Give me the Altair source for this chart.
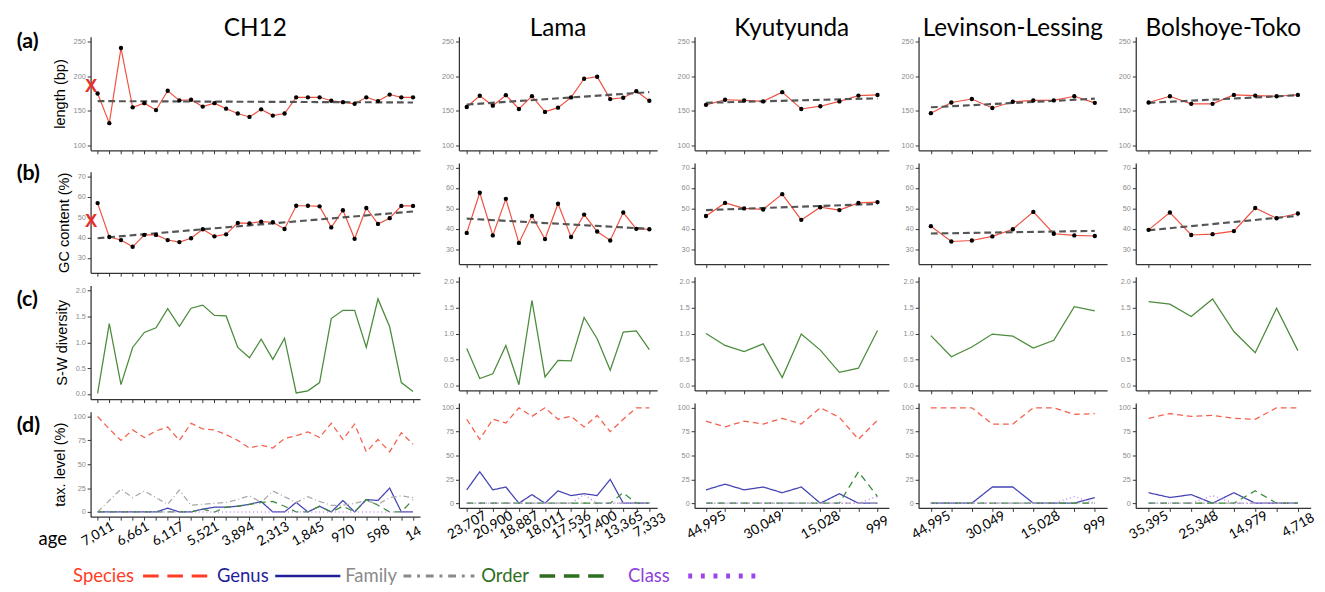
import altair as alt
import pandas as pd

# ---------------- data ----------------
sites = ["CH12", "Lama", "Kyutyunda", "Levinson-Lessing", "Bolshoye-Toko"]

ch12_ages = ["7,011", "6,661", "6,117", "5,521", "3,894", "2,313", "1,845", "970", "598", "14"]
lama_ages = ["23,707", "20,900", "18,887", "18,011", "17,536", "17,400", "13,365", "7,333"]
kyu_ages = ["44,995", "30,049", "15,028", "999"]
lev_ages = ["44,995", "30,049", "15,028", "999"]
bol_ages = ["35,395", "25,348", "14,979", "4,718"]

ch12_len = [175, 132, 241, 155, 161, 151, 179, 165, 166, 156, 161, 153, 146, 141, 152, 143, 146,
            169.5, 169.5, 169.5, 164.5, 162.5, 160, 169.5, 164, 173.5, 169.5, 169.5]
lama_len = [155.4, 171.7, 157.4, 172.6, 152.6, 171.2, 148.3, 154.5, 169.3, 196.5, 199.4, 166.9, 168.8, 178.4, 164.5]
kyu_len = [158.6, 166, 165, 163.6, 177, 152.6, 156.6, 163.6, 172, 173]
lev_len = [146.5, 162, 167, 154, 163, 165, 165, 171, 161.5]
bol_len = [162, 171, 160, 160, 173, 172, 171, 173]

ch12_gc = [56.9, 40.3, 38.8, 35.5, 41.3, 41.3, 38.8, 37.8, 39.7, 44.1, 40.6, 41.6, 47.2, 47.0, 47.8, 47.5,
           44.2, 55.6, 55.6, 55.3, 45.0, 53.4, 39.4, 54.5, 46.7, 49.5, 55.5, 55.5]
lama_gc = [38.0, 57.7, 36.8, 54.7, 33.1, 46.3, 35.0, 52.3, 36.0, 47.0, 38.7, 34.3, 48.0, 40.0, 39.8]
kyu_gc = [46.3, 52.7, 50.0, 49.5, 57.0, 44.4, 50.6, 49.2, 52.7, 53.1]
lev_gc = [41.3, 33.8, 34.3, 36.3, 39.8, 48.3, 37.6, 36.8, 36.5]
bol_gc = [39.5, 48.0, 37.0, 37.4, 38.9, 50.2, 45.2, 47.5]

# dashed trend lines: value at first and last sample
ch12_len_trend = [164, 162]
lama_len_trend = [159, 177]
kyu_len_trend = [161.6, 168]
lev_len_trend = [155, 167.5]
bol_len_trend = [161.5, 172.5]
ch12_gc_trend = [39.7, 52.8]
lama_gc_trend = [45, 40]
kyu_gc_trend = [49.2, 52.2]
lev_gc_trend = [37.7, 39]
bol_gc_trend = [39.3, 46.4]

# red X reference markers (CH12)
ch12_marker_len = 186
ch12_marker_gc = 48
marker_x = -0.55

ch12_sw = [0.01, 1.36, 0.18, 0.90, 1.19, 1.28, 1.65, 1.31, 1.66, 1.72, 1.52, 1.51, 0.90, 0.70, 1.06, 0.67,
           1.08, 0.02, 0.06, 0.22, 1.46, 1.62, 1.62, 0.90, 1.84, 1.30, 0.22, 0.05]
lama_sw = [0.71, 0.13, 0.22, 0.77, 0.01, 1.64, 0.16, 0.48, 0.47, 1.31, 0.90, 0.29, 1.03, 1.05, 0.69]
kyu_sw = [1.0, 0.77, 0.65, 0.80, 0.15, 0.99, 0.68, 0.25, 0.33, 1.06]
lev_sw = [0.96, 0.55, 0.74, 0.99, 0.95, 0.72, 0.87, 1.52, 1.44]
bol_sw = [1.62, 1.57, 1.33, 1.67, 1.04, 0.63, 1.49, 0.67]

ch12_species = [100, 87, 75, 86, 78, 85, 89, 75, 93, 87, 86, 81, 75, 67, 70, 67, 77, 80, 84, 78, 93, 76, 92, 63, 76, 63, 83, 71]
ch12_genus = [0, 0, 0, 0, 0, 0, 4, 0, 0, 3, 5, 5, 6, 8, 11, 0, 0, 10, 0, 6, 0, 12, 0, 13, 12, 25, 0, 0]
ch12_family = [0, 12, 24, 15, 22, 15, 8, 23, 7, 8, 9, 10, 13, 17, 10, 22, 16, 10, 16, 11, 7, 7, 9, 12, 8, 15, 17, 15]
ch12_order = [0, 0, 0, 0, 0, 0, 0, 0, 0, 3, 0, 5, 6, 8, 10, 11, 6, 0, 0, 6, 0, 6, 0, 13, 7, 0, 0, 13]
ch12_class = [0] * 28

lama_species = [88, 67, 88, 84, 100, 91, 100, 88, 91, 80, 92, 75, 88, 100, 100]
lama_genus = [14, 33, 14, 17, 0, 9, 0, 13, 8, 10, 8, 25, 0, 0, 0]
lama_family = [0] * 15
lama_order = [0, 0, 0, 0, 0, 0, 0, 0, 0, 0, 0, 0, 11, 0, 0]
lama_class = [0, 0, 0, 0, 0, 0, 0, 0, 0, 9, 0, 0, 0, 0, 0]

kyu_species = [86, 80, 86, 83, 89, 83, 100, 90, 67, 87]
kyu_genus = [14, 20, 14, 17, 11, 17, 0, 10, 0, 0]
kyu_family = [0] * 10
kyu_order = [0, 0, 0, 0, 0, 0, 0, 0, 33, 7]
kyu_class = [0, 0, 0, 0, 0, 0, 0, 0, 0, 7]

lev_species = [100, 100, 100, 83, 83, 100, 100, 93, 94]
lev_genus = [0, 0, 0, 17, 17, 0, 0, 0, 6]
lev_family = [0] * 9
lev_order = [0] * 9
lev_class = [0, 0, 0, 0, 0, 0, 0, 7, 0]

bol_species = [89, 94, 91, 92, 89, 88, 100, 100]
bol_genus = [11, 6, 9, 0, 11, 0, 0, 0]
bol_family = [0] * 8
bol_order = [0, 0, 0, 0, 0, 13, 0, 0]
bol_class = [0, 0, 0, 8, 0, 0, 0, 0]

levels = ["Species", "Genus", "Family", "Order", "Class"]

# ---------------- styling ----------------
RED = "#f0503f"
SW_GREEN = "#4b8b3b"
TAX_COLORS = {"Species": "#f4604e", "Genus": "#4444b4", "Family": "#a9a9a9", "Order": "#3a8a3a", "Class": "#c58cf5"}
TAX_DASH = {"Species": [6, 4], "Genus": [1, 0], "Family": [6, 3, 1, 3], "Order": [7, 5], "Class": [1, 3]}
LEG_TEXT = {"Species": "#ff3d24", "Genus": "#1f1f99", "Family": "#8a8a8a", "Order": "#2e6e1e", "Class": "#8e3fe0"}
LEG_DASH = {"Species": [16, 9], "Genus": [1, 0], "Family": [8, 6, 3, 6], "Order": [16, 9], "Class": [4, 9]}
LEG_WIDTH = {"Species": 3, "Genus": 2.5, "Family": 3, "Order": 3.5, "Class": 5}

H = {"a": 117, "b": 104, "c": 117, "d": 108}
WIDTHS = [339, 204, 200, 194, 180]

Y_LEN = dict(domain=[92.5, 257.5], values=[100, 150, 200, 250], title="length (bp)")
Y_GC = dict(domain=[22.75, 72.25], values=[30, 40, 50, 60, 70], title="GC content (%)")
Y_SW = dict(domain=[-0.1, 2.1], values=[0, 0.5, 1.0, 1.5, 2.0], title="S-W diversity")
Y_TAX = dict(domain=[-5, 105], values=[0, 25, 50, 75, 100], title="tax. level (%)")


def xenc(n, ages=None):
    scale = alt.Scale(domain=[-0.6, n - 0.4], nice=False, zero=False)
    if ages is None:
        axis = alt.Axis(values=list(range(n)), labels=False, title=None)
    else:
        L = len(ages)
        f = (L - 1) / (n - 1)
        pos = [round(k / f, 6) for k in range(L)]
        vals = sorted(set([float(i) for i in range(n)] + pos))
        arr = "[" + ",".join("'%s'" % a for a in ages) + "]"
        expr = (f"abs(datum.value*{f!r} - round(datum.value*{f!r})) < 0.001 ? "
                f"{arr}[round(datum.value*{f!r})] : ''")
        axis = alt.Axis(values=vals, labelExpr=expr, title=None,
                        tickOpacity={"condition": {"test": "abs(datum.value - round(datum.value)) > 0.001", "value": 0}, "value": 1},
                        labelColor="black", labelFont="Lato", labelFontSize=14, labelAngle=-30,
                        labelAlign="center", labelBaseline="middle", labelPadding=14,
                        labelOverlap=False, labelFlush=False)
    return alt.X("i:Q", scale=scale, axis=axis)


def yenc(spec, first, fmt=None):
    kw = dict(values=spec["values"])
    if fmt:
        kw["format"] = fmt
    kw["title"] = spec["title"] if first else None
    if first:
        kw["titlePadding"] = 6
    return alt.Y("v:Q", scale=alt.Scale(domain=spec["domain"], nice=False, zero=False), axis=alt.Axis(**kw))


def row_label(txt, dy):
    return alt.Chart(pd.DataFrame({"t": [txt]})).mark_text(
        font="Lato", fontSize=22, fontWeight="bold", align="left", baseline="middle", color="black"
    ).encode(text="t:N", x=alt.value(-76), y=alt.value(dy))


def seq_panel(vals, trend, spec, first, marker=None, label=None, ldy=0):
    n = len(vals)
    df = pd.DataFrame({"i": list(range(n)), "v": vals})
    x = xenc(n)
    y = yenc(spec, first)
    layers = [
        alt.Chart(df).mark_line(color=RED, strokeWidth=1.2).encode(x=x, y=y),
        alt.Chart(pd.DataFrame({"i": [0, n - 1], "v": trend})).mark_line(
            color="#555555", strokeDash=[7, 4], strokeWidth=2.2).encode(x=x, y=y),
        alt.Chart(df).mark_circle(color="black", size=20, opacity=1).encode(x=x, y=y),
    ]
    if marker is not None:
        layers.append(alt.Chart(pd.DataFrame({"i": [marker_x], "v": [marker], "t": ["X"]})).mark_text(
            color="#e8302a", fontSize=19, fontWeight="bold", font="Liberation Sans").encode(x=x, y=y, text="t:N"))
    if label:
        layers.append(row_label(label, ldy))
    return layers


def sw_panel(vals, first, label=None, ldy=0):
    n = len(vals)
    df = pd.DataFrame({"i": list(range(n)), "v": vals})
    layers = [alt.Chart(df).mark_line(color=SW_GREEN, strokeWidth=1.3).encode(
        x=xenc(n), y=yenc(Y_SW, first, ".1f"))]
    if label:
        layers.append(row_label(label, ldy))
    return layers


def tax_panel(series, ages, first, h, label=None, ldy=0):
    n = len(series["Species"])
    x = xenc(n, ages)
    y = yenc(Y_TAX, first)
    layers = []
    for lv in levels:
        df = pd.DataFrame({"i": list(range(n)), "v": series[lv]})
        layers.append(alt.Chart(df).mark_line(
            color=TAX_COLORS[lv], strokeDash=TAX_DASH[lv], strokeWidth=1.3 if lv != "Class" else 1.6
        ).encode(x=x, y=y))
    if label:
        layers.append(row_label(label, ldy))
    if first:
        layers.append(alt.Chart(pd.DataFrame({"t": ["age"]})).mark_text(
            font="Lato", fontSize=19, align="center", baseline="middle", color="black"
        ).encode(text="t:N", x=alt.value(-39), y=alt.value(h + 23)))
    return layers


all_len = [ch12_len, lama_len, kyu_len, lev_len, bol_len]
all_len_tr = [ch12_len_trend, lama_len_trend, kyu_len_trend, lev_len_trend, bol_len_trend]
all_gc = [ch12_gc, lama_gc, kyu_gc, lev_gc, bol_gc]
all_gc_tr = [ch12_gc_trend, lama_gc_trend, kyu_gc_trend, lev_gc_trend, bol_gc_trend]
all_sw = [ch12_sw, lama_sw, kyu_sw, lev_sw, bol_sw]
all_ages = [ch12_ages, lama_ages, kyu_ages, lev_ages, bol_ages]
all_tax = [
    dict(Species=ch12_species, Genus=ch12_genus, Family=ch12_family, Order=ch12_order, Class=ch12_class),
    dict(Species=lama_species, Genus=lama_genus, Family=lama_family, Order=lama_order, Class=lama_class),
    dict(Species=kyu_species, Genus=kyu_genus, Family=kyu_family, Order=kyu_order, Class=kyu_class),
    dict(Species=lev_species, Genus=lev_genus, Family=lev_family, Order=lev_order, Class=lev_class),
    dict(Species=bol_species, Genus=bol_genus, Family=bol_family, Order=bol_order, Class=bol_class),
]

columns = []
for k, site in enumerate(sites):
    first = k == 0
    w = WIDTHS[k]
    pa = alt.layer(*seq_panel(all_len[k], all_len_tr[k], Y_LEN, first,
                              marker=ch12_marker_len if first else None,
                              label="(a)" if first else None, ldy=5)).properties(
        width=w, height=H["a"],
        title=alt.TitleParams(site, font="Lato", fontSize=25, fontWeight="normal", color="black",
                              anchor="middle", frame="group", offset=-10 if first else -4))
    pb = alt.layer(*seq_panel(all_gc[k], all_gc_tr[k], Y_GC, first,
                              marker=ch12_marker_gc if first else None,
                              label="(b)" if first else None, ldy=2)).properties(width=w, height=H["b"])
    pc = alt.layer(*sw_panel(all_sw[k], first, label="(c)" if first else None, ldy=14)).properties(
        width=w, height=H["c"])
    pd_ = alt.layer(*tax_panel(all_tax[k], all_ages[k], first, H["d"],
                               label="(d)" if first else None, ldy=14)).properties(width=w, height=H["d"])
    columns.append(alt.vconcat(pa, pb, pc, pd_, spacing=9))

grid = alt.hconcat(columns[0], alt.hconcat(*columns[1:], spacing=8.5), spacing=17)

# ---------------- custom legend (positions relative to the legend's origin) ----------------
leg_text_x = [-18, 130, 262, 402, 553]
leg_line_x = [(54, 124), (190, 257), (322, 395), (462, 530), (615, 690)]
leg_layers = []
for lv, tx, (x1, x2) in zip(levels, leg_text_x, leg_line_x):
    leg_layers.append(alt.Chart(pd.DataFrame({"t": [lv]})).mark_text(
        font="Lato", fontSize=19, align="left", baseline="middle", color=LEG_TEXT[lv]
    ).encode(text="t:N", x=alt.value(tx), y=alt.value(11)))
    leg_layers.append(alt.Chart(pd.DataFrame({"t": [lv]})).mark_rule(
        color=LEG_TEXT[lv] if lv != "Class" else "#9b45e8", strokeDash=LEG_DASH[lv], strokeWidth=LEG_WIDTH[lv]
    ).encode(x=alt.value(x1), x2=alt.value(x2), y=alt.value(11)))
legend = alt.layer(*leg_layers).properties(width=700, height=20)

chart = alt.vconcat(grid, legend, spacing=17).properties(
    padding={"left": 9, "top": 0, "right": 0, "bottom": 0}
).configure_view(stroke=None).configure_axis(
    grid=False, domainColor="#333333", domainWidth=1.3, tickColor="#333333", tickWidth=1, tickSize=3.5,
    labelColor="#8a8a8a", labelFont="Liberation Sans", labelFontSize=7.5, labelPadding=2,
    titleFont="Liberation Sans", titleFontSize=15, titleFontWeight="normal", titleColor="black"
)

chart.save("out.html", embed_options={"renderer": "svg", "actions": False})
